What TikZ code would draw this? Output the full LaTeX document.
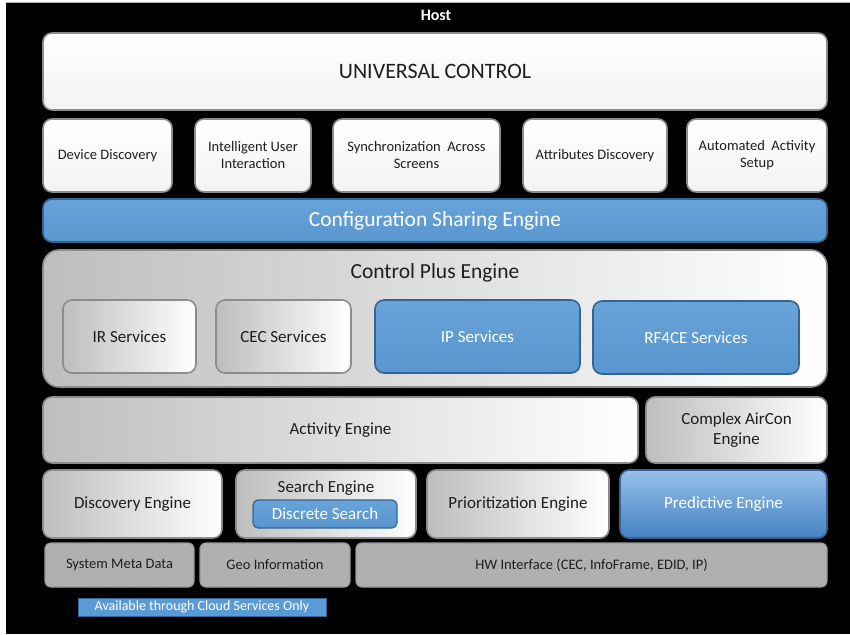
\documentclass[tikz,border=0pt]{standalone}
\usepackage{fontspec}
\setmainfont{Carlito}
\definecolor{boxblue}{RGB}{91,155,213}
\definecolor{blueedge}{RGB}{52,100,150}
\definecolor{bluelight}{RGB}{150,192,234}
\definecolor{bluedark}{RGB}{70,130,195}
\definecolor{greyfill}{RGB}{176,176,176}
\definecolor{greyedge}{RGB}{140,140,140}
\definecolor{softgrey}{RGB}{190,190,190}
\definecolor{inktext}{RGB}{30,30,30}
\tikzset{
  panel/.style={rounded corners=9pt, draw=greyedge, line width=1.6pt,
    inner sep=0pt, outer sep=0pt, align=center, text=inktext},
  whitebox/.style={panel, top color=white, bottom color=white!95!black},
  fadebox/.style={panel, left color=softgrey, middle color=white!96!black, right color=white},
  diagbox/.style={panel, shading angle=60, left color=softgrey, middle color=white, right color=white},
  bluebox/.style={panel, draw=blueedge, top color=boxblue!92!white, bottom color=boxblue!97!black, text=white},
  predbox/.style={panel, draw=blueedge, top color=bluelight, bottom color=bluedark, text=white},
  greybox/.style={panel, rounded corners=6pt, fill=greyfill, draw=softgrey!80!black, line width=1.2pt},
}
\begin{document}
\begin{tikzpicture}[x=1pt,y=-1pt]
  % page and black backdrop
  \useasboundingbox (0,0) rectangle (850,634);
  \fill[white] (0,0) rectangle (850,634);
  \fill[black] (6,2) rectangle (850,634);
  \draw[gray!60, line width=0.8pt] (6,2.4) -- (850,2.4);

  \node[text=white, font=\bfseries\fontsize{16}{18}\selectfont] (host) at (436,15) {Host};

  % top layer
  \node[whitebox, minimum width=784pt, minimum height=77pt, font=\fontsize{22}{26}\selectfont] (uc) at (435,71.5) {UNIVERSAL CONTROL};

  \begin{scope}[every node/.append style={font=\fontsize{14.5}{17}\selectfont}]
    \node[whitebox, minimum width=129pt, minimum height=73pt] (dd)  at (107.5,155.5) {Device Discovery};
    \node[whitebox, minimum width=116pt, minimum height=73pt] (iui) at (253,155.5) {Intelligent User\\Interaction};
    \node[whitebox, minimum width=167pt, minimum height=73pt] (sas) at (416.5,155.5) {Synchronization\ \ Across\\Screens};
    \node[whitebox, minimum width=144pt, minimum height=73pt] (atd) at (595,155.5) {Attributes Discovery};
    \node[whitebox, minimum width=140pt, minimum height=73pt] (aas) at (757,155.5) {Automated\ \ Activity\\Setup};
  \end{scope}

  \node[bluebox, minimum width=784pt, minimum height=43pt, font=\fontsize{21.5}{25}\selectfont] (cse) at (435,220.5) {Configuration Sharing Engine};

  % control plus engine with its services
  \node[fadebox, rounded corners=16pt, minimum width=784pt, minimum height=137pt] (cpe) at (435,318.5) {};
  \node[text=inktext, font=\fontsize{21.5}{25}\selectfont] (cpet) at (435,273) {Control Plus Engine};
  \begin{scope}[every node/.append style={font=\fontsize{17}{20}\selectfont}]
    \node[diagbox, minimum width=133pt, minimum height=73pt] (ir)  at (129.5,336.5) {IR Services};
    \node[diagbox, minimum width=135pt, minimum height=73pt] (cec) at (283.5,336.5) {CEC Services};
    \node[bluebox, minimum width=205pt, minimum height=73pt] (ip)  at (477.5,336.5) {IP Services};
    \node[bluebox, minimum width=206pt, minimum height=73pt] (rf)  at (696,337.5) {RF4CE Services};
  \end{scope}

  % engines
  \begin{scope}[every node/.append style={font=\fontsize{17}{20}\selectfont}]
    \node[fadebox, minimum width=595pt, minimum height=66pt] (ae) at (340.5,430) {Activity Engine};
    \node[fadebox, minimum width=181pt, minimum height=66pt] (ca) at (736.5,430) {Complex AirCon\\Engine};
    \node[diagbox, minimum width=179pt, minimum height=68pt] (de) at (132.5,504) {Discovery Engine};
    \node[diagbox, minimum width=180pt, minimum height=68pt] (se) at (326,504) {};
    \node[text=inktext] (set) at (326,488) {Search Engine};
    \node[bluebox, rounded corners=5pt, minimum width=144pt, minimum height=28pt, line width=1.2pt] (ds) at (325,514) {Discrete Search};
    \node[diagbox, minimum width=182pt, minimum height=68pt] (pe) at (518,504) {Prioritization Engine};
    \node[predbox, minimum width=207pt, minimum height=68pt] (pred) at (723.5,504) {Predictive Engine};
  \end{scope}

  % base layer
  \begin{scope}[every node/.append style={font=\fontsize{14.5}{17}\selectfont}]
    \node[greybox, minimum width=149pt, minimum height=44pt] (smd) at (119.5,565) {System Meta Data};
    \node[greybox, minimum width=150pt, minimum height=44pt] (geo) at (275,565) {Geo Information};
    \node[greybox, minimum width=471pt, minimum height=44pt] (hw)  at (591.5,565) {HW Interface (CEC, InfoFrame, EDID, IP)};
  \end{scope}

  % legend
  \node[fill=boxblue, draw=blueedge, line width=0.6pt, text=white, inner sep=0pt,
        minimum width=248pt, minimum height=18pt, font=\fontsize{14}{16}\selectfont] (legend) at (202,607) {Available through Cloud Services Only};
\end{tikzpicture}
\end{document}
